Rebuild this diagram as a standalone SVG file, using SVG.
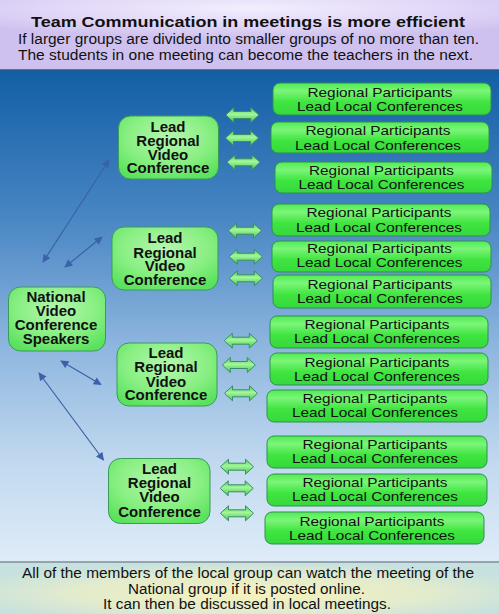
<svg xmlns="http://www.w3.org/2000/svg" width="499" height="614" viewBox="0 0 499 614">
<defs>
  <linearGradient id="bgMain" x1="0" y1="0" x2="0" y2="1">
    <stop offset="0" stop-color="#125ea5"/>
    <stop offset="0.3" stop-color="#4886c3"/>
    <stop offset="0.55" stop-color="#8bb4de"/>
    <stop offset="0.8" stop-color="#c2d9ef"/>
    <stop offset="1" stop-color="#dfecf8"/>
  </linearGradient>
  <radialGradient id="bgHead" cx="0.5" cy="0.2" r="0.7" gradientTransform="matrix(1 0 0 0.6 0 0)">
    <stop offset="0" stop-color="#f2eefd"/>
    <stop offset="0.6" stop-color="#e0d6f7"/>
    <stop offset="1" stop-color="#cfc1ef"/>
  </radialGradient>
  <radialGradient id="bgFoot" cx="0.5" cy="0.6" r="0.6">
    <stop offset="0" stop-color="#f6f2bd"/>
    <stop offset="0.6" stop-color="#e2ebcd"/>
    <stop offset="1" stop-color="#c6e1df"/>
  </radialGradient>
  <linearGradient id="gBox" x1="0" y1="0" x2="0" y2="1">
    <stop offset="0" stop-color="#4fec4f"/>
    <stop offset="0.25" stop-color="#7cf57a"/>
    <stop offset="0.6" stop-color="#3fe53f"/>
    <stop offset="1" stop-color="#36d83c"/>
  </linearGradient>
  <radialGradient id="gLead" cx="0.5" cy="0.35" r="0.7">
    <stop offset="0" stop-color="#b5f7ae"/>
    <stop offset="0.6" stop-color="#88ef82"/>
    <stop offset="1" stop-color="#5be25d"/>
  </radialGradient>
  <linearGradient id="gArrow" x1="0" y1="0" x2="0" y2="1">
    <stop offset="0" stop-color="#3fd64a"/>
    <stop offset="0.45" stop-color="#a6f59c"/>
    <stop offset="1" stop-color="#38cc44"/>
  </linearGradient>
  <marker id="ah" viewBox="0 0 10 10" refX="9" refY="5" markerWidth="9" markerHeight="8" markerUnits="userSpaceOnUse" orient="auto-start-reverse">
    <path d="M0,0 L10,5 L0,10 Z" fill="#3a62a8"/>
  </marker>
  <path id="dbl" d="M-16.5,0 L-8.5,-7.5 L-8.5,-3.5 L8.5,-3.5 L8.5,-7.5 L16.5,0 L8.5,7.5 L8.5,3.5 L-8.5,3.5 L-8.5,7.5 Z"/>
</defs>
<style>
  .t { font-family: "Liberation Sans", Arial, sans-serif; fill: #111; }
  .title { font-size: 15px; font-weight: bold; text-anchor: middle; }
  .sub { font-size: 14px; text-anchor: middle; }
  .lead { font-size: 15px; font-weight: bold; text-anchor: middle; fill: #111; font-family: "Liberation Sans", Arial, sans-serif; }
  .rp { font-size: 13.5px; text-anchor: middle; fill: #111; font-family: "Liberation Sans", Arial, sans-serif; }
  .box { fill: url(#gBox); stroke: #2f8f55; stroke-width: 1; }
  .lbox { fill: url(#gLead); stroke: #3a9a5e; stroke-width: 1; }
  .conn { stroke: #3a62a8; stroke-width: 1.2; fill: none; marker-start: url(#ah); marker-end: url(#ah); }
  .garrow { fill: url(#gArrow); stroke: #3a8c6c; stroke-width: 1; }
</style>

<!-- backgrounds -->
<rect x="0" y="70" width="499" height="492" fill="url(#bgMain)"/>
<rect x="0" y="0" width="499" height="70" fill="url(#bgHead)"/>
<line x1="0" y1="70" x2="499" y2="70" stroke="#2a5a8a" stroke-width="1.5"/>
<rect x="0" y="562" width="499" height="52" fill="url(#bgFoot)"/>
<line x1="0" y1="562" x2="499" y2="562" stroke="#7f8e98" stroke-width="1.5"/>

<!-- header -->
<g id="header" class="t">
  <text class="t title" x="248" y="27" textLength="434" lengthAdjust="spacingAndGlyphs">Team Communication in meetings is more efficient</text>
  <text class="t sub" x="248.5" y="43.5" textLength="461" lengthAdjust="spacingAndGlyphs">If larger groups are divided into smaller groups of no more than ten.</text>
  <text class="t sub" x="245.5" y="59.5" textLength="455" lengthAdjust="spacingAndGlyphs">The students in one meeting can become the teachers in the next.</text>
</g>

<!-- connectors -->
<g id="connectors">
  <line class="conn" x1="43" y1="262" x2="109" y2="160"/>
  <line class="conn" x1="65" y1="267" x2="102" y2="237"/>
  <line class="conn" x1="61" y1="361" x2="101" y2="384.5"/>
  <line class="conn" x1="39" y1="373" x2="103.5" y2="460"/>
  <use href="#dbl" class="garrow" transform="translate(242.3,115)"/>
  <use href="#dbl" class="garrow" transform="translate(242,138)"/>
  <use href="#dbl" class="garrow" transform="translate(243.5,162.3)"/>
  <use href="#dbl" class="garrow" transform="translate(245,230.7)"/>
  <use href="#dbl" class="garrow" transform="translate(245.8,256.7)"/>
  <use href="#dbl" class="garrow" transform="translate(245.8,278.3)"/>
  <use href="#dbl" class="garrow" transform="translate(240.8,340.7)"/>
  <use href="#dbl" class="garrow" transform="translate(238.8,365)"/>
  <use href="#dbl" class="garrow" transform="translate(241,393.3)"/>
  <use href="#dbl" class="garrow" transform="translate(237,466.7)"/>
  <use href="#dbl" class="garrow" transform="translate(236.7,488.3)"/>
  <use href="#dbl" class="garrow" transform="translate(237,513.3)"/>
</g>

<!-- national node -->
<g id="national">
  <rect class="lbox" x="8.5" y="287" width="97" height="64" rx="12"/>
  <text class="lead" x="56" y="301.7">National</text>
  <text class="lead" x="56" y="316">Video</text>
  <text class="lead" x="56" y="330">Conference</text>
  <text class="lead" x="56" y="344.3">Speakers</text>
</g>

<!-- lead regional nodes -->
<g id="lead1">
  <rect class="lbox" x="118.5" y="116" width="100" height="63" rx="12"/>
  <text class="lead" x="168" y="131.7">Lead</text>
  <text class="lead" x="168" y="145.7">Regional</text>
  <text class="lead" x="168" y="160">Video</text>
  <text class="lead" x="168" y="173.3">Conference</text>
</g>
<g id="lead2">
  <rect class="lbox" x="112" y="227" width="106" height="63" rx="12"/>
  <text class="lead" x="165" y="243.3">Lead</text>
  <text class="lead" x="165" y="257.5">Regional</text>
  <text class="lead" x="165" y="271.3">Video</text>
  <text class="lead" x="165" y="284.5">Conference</text>
</g>
<g id="lead3">
  <rect class="lbox" x="117" y="343" width="100" height="63" rx="12"/>
  <text class="lead" x="166" y="358.3">Lead</text>
  <text class="lead" x="166" y="372.3">Regional</text>
  <text class="lead" x="166" y="386.6">Video</text>
  <text class="lead" x="166" y="400.3">Conference</text>
</g>
<g id="lead4">
  <rect class="lbox" x="108.5" y="458.5" width="101.5" height="65" rx="12"/>
  <text class="lead" x="159.5" y="474">Lead</text>
  <text class="lead" x="159.5" y="488.3">Regional</text>
  <text class="lead" x="159.5" y="502.3">Video</text>
  <text class="lead" x="159.5" y="516.7">Conference</text>
</g>

<!-- regional participants nodes -->
<g id="rp1"><rect class="box" x="273" y="83" width="218" height="32" rx="7"/>
  <text class="rp" x="380" y="96.5" textLength="145" lengthAdjust="spacingAndGlyphs">Regional Participants</text>
  <text class="rp" x="380" y="111" textLength="166" lengthAdjust="spacingAndGlyphs">Lead Local Conferences</text></g>
<g id="rp2"><rect class="box" x="271" y="122" width="218" height="31" rx="7"/>
  <text class="rp" x="378" y="135" textLength="145" lengthAdjust="spacingAndGlyphs">Regional Participants</text>
  <text class="rp" x="378" y="149.5" textLength="166" lengthAdjust="spacingAndGlyphs">Lead Local Conferences</text></g>
<g id="rp3"><rect class="box" x="275" y="162" width="217" height="31" rx="7"/>
  <text class="rp" x="381.5" y="174.5" textLength="145" lengthAdjust="spacingAndGlyphs">Regional Participants</text>
  <text class="rp" x="381.5" y="188.7" textLength="166" lengthAdjust="spacingAndGlyphs">Lead Local Conferences</text></g>
<g id="rp4"><rect class="box" x="272" y="204" width="218" height="32" rx="7"/>
  <text class="rp" x="379" y="216.5" textLength="145" lengthAdjust="spacingAndGlyphs">Regional Participants</text>
  <text class="rp" x="379" y="231.5" textLength="166" lengthAdjust="spacingAndGlyphs">Lead Local Conferences</text></g>
<g id="rp5"><rect class="box" x="272" y="241" width="219" height="31" rx="7"/>
  <text class="rp" x="379.5" y="253" textLength="145" lengthAdjust="spacingAndGlyphs">Regional Participants</text>
  <text class="rp" x="379.5" y="267" textLength="166" lengthAdjust="spacingAndGlyphs">Lead Local Conferences</text></g>
<g id="rp6"><rect class="box" x="273" y="275" width="218" height="33" rx="7"/>
  <text class="rp" x="380" y="289" textLength="145" lengthAdjust="spacingAndGlyphs">Regional Participants</text>
  <text class="rp" x="380" y="303" textLength="166" lengthAdjust="spacingAndGlyphs">Lead Local Conferences</text></g>
<g id="rp7"><rect class="box" x="270" y="316" width="218" height="32" rx="7"/>
  <text class="rp" x="377" y="329" textLength="145" lengthAdjust="spacingAndGlyphs">Regional Participants</text>
  <text class="rp" x="377" y="343" textLength="166" lengthAdjust="spacingAndGlyphs">Lead Local Conferences</text></g>
<g id="rp8"><rect class="box" x="270" y="353" width="218" height="32" rx="7"/>
  <text class="rp" x="377" y="366.5" textLength="145" lengthAdjust="spacingAndGlyphs">Regional Participants</text>
  <text class="rp" x="377" y="380.5" textLength="166" lengthAdjust="spacingAndGlyphs">Lead Local Conferences</text></g>
<g id="rp9"><rect class="box" x="267" y="390" width="220" height="32" rx="7"/>
  <text class="rp" x="375" y="403" textLength="145" lengthAdjust="spacingAndGlyphs">Regional Participants</text>
  <text class="rp" x="375" y="417" textLength="166" lengthAdjust="spacingAndGlyphs">Lead Local Conferences</text></g>
<g id="rp10"><rect class="box" x="267" y="436" width="220" height="32" rx="7"/>
  <text class="rp" x="375" y="448.5" textLength="145" lengthAdjust="spacingAndGlyphs">Regional Participants</text>
  <text class="rp" x="375" y="463" textLength="166" lengthAdjust="spacingAndGlyphs">Lead Local Conferences</text></g>
<g id="rp11"><rect class="box" x="267" y="474" width="220" height="32" rx="7"/>
  <text class="rp" x="375" y="487" textLength="145" lengthAdjust="spacingAndGlyphs">Regional Participants</text>
  <text class="rp" x="375" y="501" textLength="166" lengthAdjust="spacingAndGlyphs">Lead Local Conferences</text></g>
<g id="rp12"><rect class="box" x="265" y="512" width="219" height="32" rx="7"/>
  <text class="rp" x="372" y="526" textLength="145" lengthAdjust="spacingAndGlyphs">Regional Participants</text>
  <text class="rp" x="372" y="540" textLength="166" lengthAdjust="spacingAndGlyphs">Lead Local Conferences</text></g>

<!-- footer -->
<g id="footer">
  <text class="t sub" x="248" y="577.5" textLength="452" lengthAdjust="spacingAndGlyphs">All of the members of the local group can watch the meeting of the</text>
  <text class="t sub" x="246.5" y="593.5" textLength="237" lengthAdjust="spacingAndGlyphs">National group if it is posted online.</text>
  <text class="t sub" x="247" y="608.5" textLength="288" lengthAdjust="spacingAndGlyphs">It can then be discussed in local meetings.</text>
</g>
</svg>
